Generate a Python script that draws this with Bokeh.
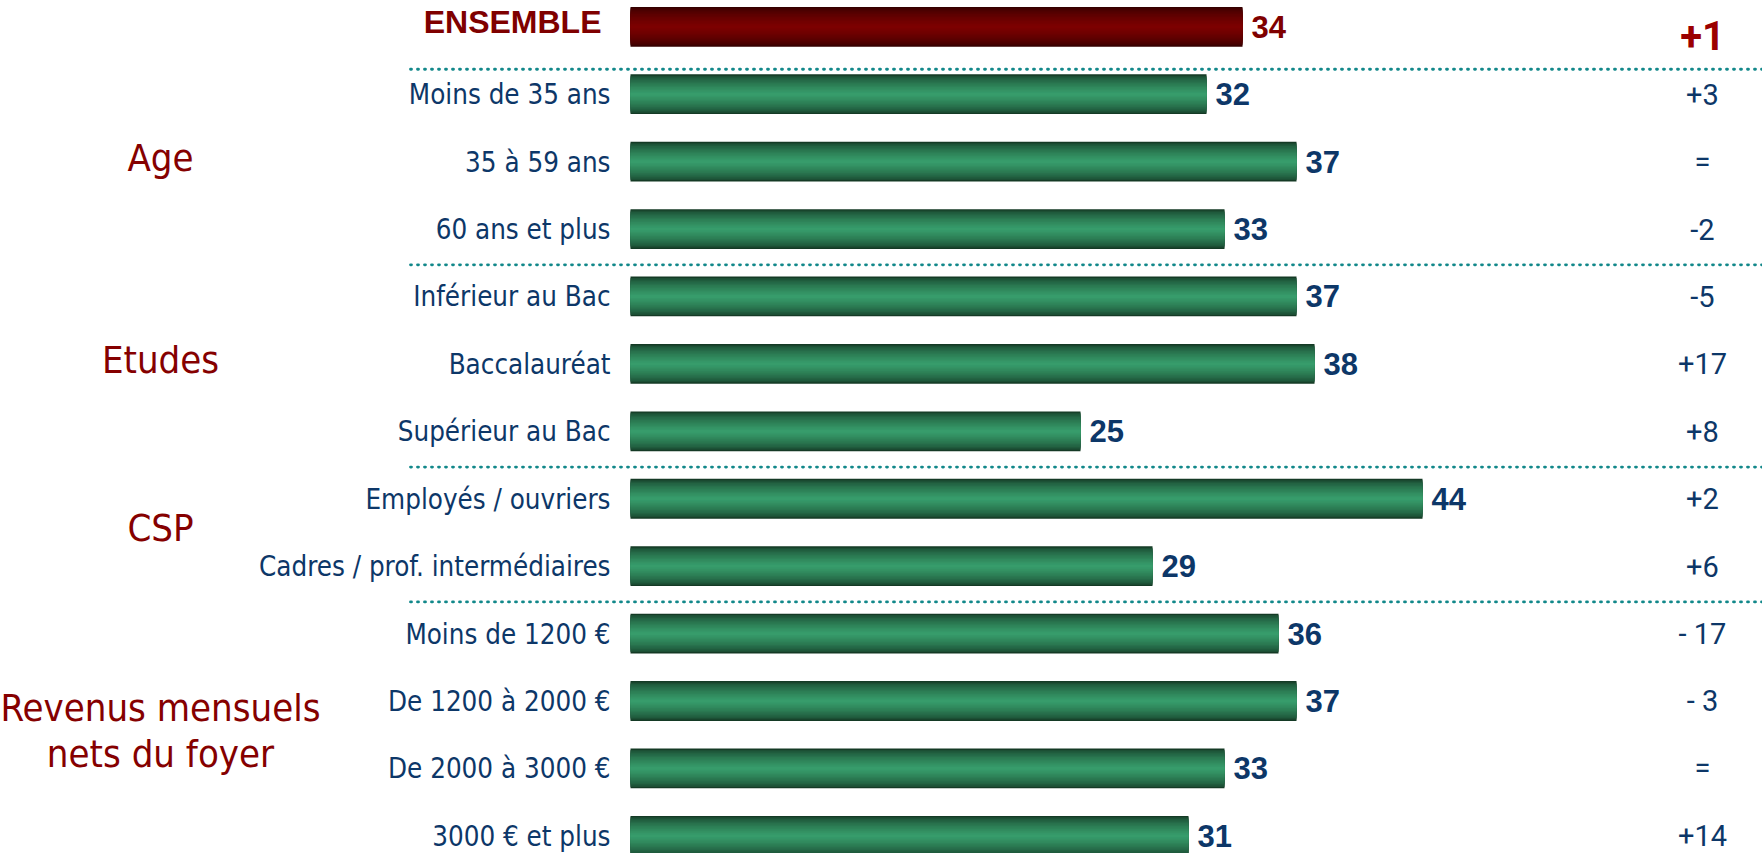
from bokeh.plotting import figure
from bokeh.models import Range1d, ColumnDataSource
from bokeh.core.properties import value
from bokeh.embed import file_html
from bokeh.resources import INLINE

# ---------------- data ----------------
categories = ["ENSEMBLE", "Moins de 35 ans", "35 à 59 ans", "60 ans et plus",
              "Inférieur au Bac", "Baccalauréat", "Supérieur au Bac",
              "Employés / ouvriers", "Cadres / prof. intermédiaires",
              "Moins de 1200 €", "De 1200 à 2000 €", "De 2000 à 3000 €",
              "3000 € et plus"]
values = [34, 32, 37, 33, 37, 38, 25, 44, 29, 36, 37, 33, 31]
changes = ["+1", "+3", "=", "-2", "-5", "+17", "+8", "+2", "+6", "- 17", "- 3", "=", "+14"]
group_names = ["Age", "Etudes", "CSP", "Revenus mensuels\nnets du foyer"]
group_sizes = [3, 3, 2, 4]

# ---------------- layout / style ----------------
W, H = 1762, 853
PX = 18.0        # pixels per value unit
ROW = 67.42      # pixels per row
X0 = 630         # frame px of value 0
Y0 = 26.3        # frame px of first row centre
BAR_H = 0.59

NAVY = "#0d3768"
RED = "#7f0000"
TEAL = "#12888a"
SANS = value("DejaVu Sans Condensed")
BOLD = value("Liberation Sans")
ROBOTO = value("Roboto")

p = figure(width=W, height=H, output_backend="svg", toolbar_location=None,
           x_range=Range1d(-X0 / PX, (W - X0) / PX),
           y_range=Range1d((H - Y0) / ROW, -Y0 / ROW),
           x_axis_type=None, y_axis_type=None, min_border=0)
p.grid.visible = False
p.outline_line_color = None
p.background_fill_color = "white"
p.border_fill_color = "white"

rows = list(range(len(categories)))


def lerp(c1, c2, t):
    a = [int(c1[i:i + 2], 16) for i in (1, 3, 5)]
    b = [int(c2[i:i + 2], 16) for i in (1, 3, 5)]
    return "#%02x%02x%02x" % tuple(round(a[i] + (b[i] - a[i]) * t) for i in range(3))


# gradient bars, built from layered hbars
N = 14
main_src = ColumnDataSource(dict(y=rows[1:], v=values[1:]))
ens_src = ColumnDataSource(dict(y=rows[:1], v=values[:1]))
for k in range(N):
    t = k / (N - 1)
    h = BAR_H * (1 - k / N)
    s = t ** 0.6
    p.hbar(y="y", left=0, right="v", height=h, source=main_src,
           fill_color=lerp("#143a25", "#379c6b", s), line_color=None)
    p.hbar(y="y", left=0, right="v", height=h, source=ens_src,
           fill_color=lerp("#340000", "#7c0000", s), line_color=None)

# separators (dotted)
starts = [1]
for g in group_sizes[:-1]:
    starts.append(starts[-1] + g)
sep_y = [starts[0] - 0.37] + [s - 0.47 for s in starts[1:]]
p.segment(x0=-220 / PX, x1=(W - X0) / PX + 1, y0=sep_y, y1=sep_y,
          line_color=TEAL, line_width=2.8, line_dash="1 6", line_cap="round")

# category labels
cat_src = ColumnDataSource(dict(x=[0] * (len(rows) - 1), y=rows[1:], t=categories[1:]))
p.text(x="x", y="y", text="t", source=cat_src, x_offset=-20, text_align="right",
       text_baseline="middle", text_font=SANS, text_font_size="27.5px", text_color=NAVY)
p.text(x=[0], y=[rows[0] - 0.07], text=[categories[0]], x_offset=-29, text_align="right",
       text_baseline="middle", text_font=BOLD, text_font_style="bold",
       text_font_size="32px", text_color=RED)

# value labels
val_src = ColumnDataSource(dict(x=values[1:], y=rows[1:], t=[str(v) for v in values[1:]]))
p.text(x="x", y="y", text="t", source=val_src, x_offset=9, text_align="left",
       text_baseline="middle", text_font=BOLD, text_font_style="bold",
       text_font_size="31px", text_color=NAVY)
p.text(x=values[:1], y=[rows[0]], text=[str(values[0])], x_offset=9, text_align="left",
       text_baseline="middle", text_font=BOLD, text_font_style="bold",
       text_font_size="31px", text_color=RED)

# change column
cx = (1702 - X0) / PX
chg_src = ColumnDataSource(dict(x=[cx] * (len(rows) - 1), y=[r + 0.0 for r in rows[1:]], t=changes[1:]))
p.text(x="x", y="y", text="t", source=chg_src, text_align="center",
       text_baseline="middle", text_font=ROBOTO, text_font_size="29px", text_color=NAVY)
p.text(x=[cx], y=[rows[0] + 0.13], text=[changes[0]], text_align="center",
       text_baseline="middle", text_font=ROBOTO, text_font_style="bold",
       text_font_size="40px", text_color="#9b0000")

# group labels
gx = (160 - X0) / PX
gy = [s + (g - 1) / 2 - 0.06 for s, g in zip(starts, group_sizes)]
grp_src = ColumnDataSource(dict(x=[gx] * len(group_names), y=gy, t=group_names))
p.text(x="x", y="y", text="t", source=grp_src, text_align="center",
       text_baseline="middle", text_font=SANS, text_font_size="38px",
       text_color="#850000", text_line_height=1.05)

open("out.html", "w").write(file_html(p, INLINE))
